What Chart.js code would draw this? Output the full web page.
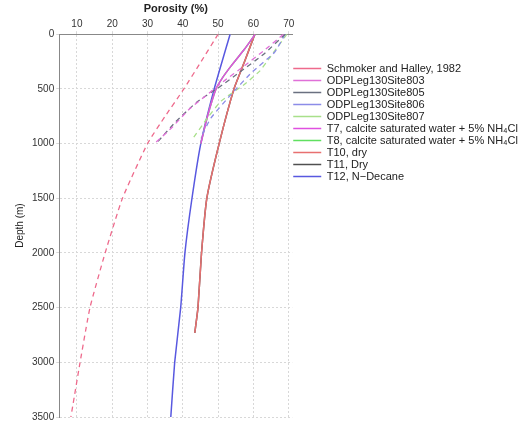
<!doctype html>
<html lang="en">
  <head>
    <meta charset="utf-8">
    <title>Porosity vs depth</title>
    <style>
      body { margin: 0; background: #fff; }
    </style>
  </head>
  <body>
    <div><canvas id="chart" width="530" height="425"></canvas></div>
  </body>
</html>
<script src="https://cdn.jsdelivr.net/npm/chart.js"></script>
<script>
// porosity (%) read at depth (m)
const schmokerDepth = [0, 250, 500, 750, 1000, 1500, 2000, 2500, 3000, 3500];
const schmokerPoro  = [50, 45.2, 40.3, 35, 30, 22.9, 18, 13.7, 10.9, 8.3];

const site803Depth = [0, 150, 300, 420, 550, 680, 850, 1000];
const site803Poro  = [68.5, 63, 57, 52, 47, 42, 37, 32];

const site805Depth = [0, 180, 350, 480, 620, 800, 980];
const site805Poro  = [69, 63, 56, 50.5, 44, 38, 33];

const site806Depth = [0, 165, 350, 550, 765, 950];
const site806Poro  = [69, 66, 59.5, 53.7, 48, 45];

const site807Depth = [0, 255, 340, 460, 610, 765, 970];
const site807Poro  = [69.5, 63.7, 61.7, 57.4, 50.9, 47, 42.5];

const t7Depth = [0, 140, 290, 410, 500, 750, 1000];
const t7Poro  = [60.5, 57.4, 53.7, 51, 49.4, 47, 45.1];
const t8Depth = t7Depth;
const t8Poro  = t7Poro;

const t10Depth = [0, 250, 500, 1000, 1500, 2000, 2500, 2730];
const t10Poro  = [60.4, 57.5, 54.5, 50.3, 46.8, 45.3, 44.3, 43.4];
const t11Depth = t10Depth;
const t11Poro  = t10Poro;

const t12Depth = [0, 500, 1000, 1500, 2000, 2500, 3000, 3500];
const t12Poro  = [53.4, 48.9, 45.1, 42.6, 40.6, 39.4, 37.7, 36.6];

const depthTicks = [0, 500, 1000, 1500, 2000, 2500, 3000, 3500];
const poroTicks = [10, 20, 30, 40, 50, 60, 70];

const pts = (xs, ys) => xs.map((v, i) => ({ x: v, y: ys[i] }));

function series(label, poro, depth, color, dash) {
    return {
        label: label,
        data: pts(poro, depth),
        borderColor: color,
        backgroundColor: color,
        borderWidth: dash ? 1.3 : 1.5,
        borderDash: dash ? [5, 4] : [],
        pointRadius: 0,
        pointStyle: 'line',
        showLine: true,
        tension: 0.15
    };
}

const chart = document.querySelector('#chart');

new Chart(chart, {
    type: 'scatter',
    data: {
        datasets: [
            series('Schmoker and Halley, 1982', schmokerPoro, schmokerDepth, '#ee6a8c', true),
            series('ODPLeg130Site803', site803Poro, site803Depth, '#e070d8', true),
            series('ODPLeg130Site805', site805Poro, site805Depth, '#6a7080', true),
            series('ODPLeg130Site806', site806Poro, site806Depth, '#8c8ce8', true),
            series('ODPLeg130Site807', site807Poro, site807Depth, '#a8e08a', true),
            series('T7, calcite saturated water + 5% NH\u2084Cl', t7Poro, t7Depth, '#e050e0', false),
            series('T8, calcite saturated water + 5% NH\u2084Cl', t8Poro, t8Depth, '#60e060', false),
            series('T10, dry', t10Poro, t10Depth, '#e87070', false),
            series('T11, Dry', t11Poro, t11Depth, '#505050', false),
            series('T12, N\u2212Decane', t12Poro, t12Depth, '#5858e0', false)
        ]
    },
    options: {
        responsive: false,
        animation: false,
        layout: {
            padding: { left: 14, top: 2, right: 2, bottom: 8 }
        },
        plugins: {
            legend: {
                position: 'right',
                align: 'start',
                maxWidth: 250,
                title: {
                    display: true,
                    text: ' ',
                    font: { size: 10 },
                    padding: { top: 48, bottom: 0 }
                },
                labels: {
                    usePointStyle: true,
                    pointStyleWidth: 28,
                    boxHeight: 8,
                    padding: 1,
                    color: '#222',
                    font: { family: 'Liberation Sans', size: 11 }
                }
            },
            tooltip: { enabled: false }
        },
        scales: {
            x: {
                type: 'linear',
                position: 'top',
                min: 5,
                max: 71,
                afterBuildTicks: axis => { axis.ticks = poroTicks.map(v => ({ value: v })); },
                ticks: {
                    color: '#333',
                    font: { family: 'Liberation Sans', size: 10 },
                    padding: 1
                },
                grid: {
                    color: '#d8d8d8',
                    tickLength: 3
                },
                border: { color: '#888', dash: [2, 2] },
                title: {
                    display: true,
                    text: 'Porosity (%)',
                    color: '#222',
                    font: { family: 'Liberation Sans', size: 11, weight: 'bold' },
                    padding: { top: 0, bottom: 2 }
                }
            },
            y: {
                type: 'linear',
                reverse: true,
                min: 0,
                max: 3500,
                afterBuildTicks: axis => { axis.ticks = depthTicks.map(v => ({ value: v })); },
                ticks: {
                    color: '#333',
                    font: { family: 'Liberation Sans', size: 10 },
                    padding: 2,
                    callback: v => String(v)
                },
                grid: {
                    color: '#d8d8d8',
                    tickLength: 3
                },
                border: { color: '#888', dash: [2, 2] },
                title: {
                    display: true,
                    text: 'Depth (m)',
                    color: '#222',
                    font: { family: 'Liberation Sans', size: 10 },
                    padding: { top: 0, bottom: 4 }
                }
            }
        }
    }
});
</script>
